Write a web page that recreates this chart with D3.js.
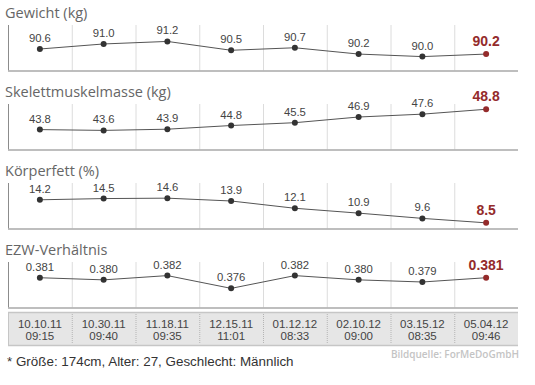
<!doctype html>
<html lang="de">
<head>
<meta charset="utf-8">
<title>Körperanalyse</title>
<style>
  body { margin: 0; background: #fff; }
  .title { font-family: "Open Sans", sans-serif; font-size: 14.5px; fill: #666; }
  .val { font-family: "Liberation Sans", Arial, sans-serif; font-size: 11.3px; fill: #444; }
  .val--last { font-size: 14px; font-weight: bold; fill: #942b2b; }
  .date { font-family: "Liberation Sans Narrow", "Arial Narrow", "Liberation Sans", sans-serif; font-size: 11.5px; fill: #444; }
  .note { font-family: "Liberation Sans", Arial, sans-serif; font-size: 13.4px; fill: #333; }
  .source { font-family: "Open Sans", sans-serif; font-size: 10px; font-weight: 600; fill: #c4c4c4; }
</style>
</head>
<body>
<svg width="535" height="385"></svg>
<script src="https://cdn.jsdelivr.net/npm/d3@7"></script>
<script>

// Messzeitpunkte
var dates = ["10.10.11", "10.30.11", "11.18.11", "12.15.11", "01.12.12", "02.10.12", "03.15.12", "05.04.12"];
var times = ["09:15", "09:40", "09:35", "11:01", "08:33", "09:00", "08:35", "09:46"];

// Messwerte
var gewicht = [90.6, 91.0, 91.2, 90.5, 90.7, 90.2, 90.0, 90.2];
var muskel  = [43.8, 43.6, 43.9, 44.8, 45.5, 46.9, 47.6, 48.8];
var fett    = [14.2, 14.5, 14.6, 13.9, 12.1, 10.9, 9.6, 8.5];
var ezw     = [0.381, 0.380, 0.382, 0.376, 0.382, 0.380, 0.379, 0.381];

var panels = [
  {title: "Gewicht (kg)",            values: gewicht, domain: [88.9, 92.5],    fmt: ".1f"},
  {title: "Skelettmuskelmasse (kg)", values: muskel,  domain: [38.9, 50.1],    fmt: ".1f"},
  {title: "Körperfett (%)",          values: fett,    domain: [7.1, 18.35],    fmt: ".1f"},
  {title: "EZW-Verhältnis",          values: ezw,     domain: [0.367, 0.3884], fmt: ".3f"}
];

var svg = d3.select("svg"),
    left = 8, right = 518,
    panelTop = 25, panelStep = 79, panelH = 45.5;

var x = d3.scaleBand().domain(dates).range([left, right]);
var dividers = dates.slice(1).map(function(d) { return x(d); });

panels.forEach(function(p, i) {
  var top = panelTop + i * panelStep,
      bottom = top + panelH;
  var y = d3.scaleLinear().domain(p.domain).range([bottom, top]);
  var g = svg.append("g");

  g.append("text").attr("class", "title")
      .attr("x", 5).attr("y", top - 7.5)
      .text(p.title);

  g.selectAll(".divider").data(dividers).enter().append("line")
      .attr("x1", function(d) { return d + 0.5; }).attr("x2", function(d) { return d + 0.5; })
      .attr("y1", top).attr("y2", bottom)
      .style("stroke", "#dcdcdc");

  g.append("line")
      .attr("x1", left + 0.5).attr("x2", left + 0.5)
      .attr("y1", top).attr("y2", bottom)
      .style("stroke", "#8c8c8c");

  g.append("line")
      .attr("x1", left).attr("x2", right)
      .attr("y1", bottom + 0.5).attr("y2", bottom + 0.5)
      .style("stroke", "#a8a8a8").style("stroke-width", 1.5);

  var data = p.values.map(function(v, j) { return {date: dates[j], v: v, last: j === p.values.length - 1}; });

  var line = d3.line()
      .x(function(d) { return x(d.date) + x.bandwidth() / 2; })
      .y(function(d) { return y(d.v); });

  g.append("path").datum(data)
      .attr("d", line)
      .style("fill", "none").style("stroke", "#555").style("stroke-width", 1);

  g.selectAll("circle").data(data).enter().append("circle")
      .attr("cx", function(d) { return x(d.date) + x.bandwidth() / 2; })
      .attr("cy", function(d) { return y(d.v); })
      .attr("r", 3)
      .style("fill", function(d) { return d.last ? "#942b2b" : "#333"; });

  g.selectAll(".val").data(data).enter().append("text")
      .attr("class", function(d) { return d.last ? "val val--last" : "val"; })
      .attr("text-anchor", "middle")
      .attr("x", function(d) { return x(d.date) + x.bandwidth() / 2; })
      .attr("y", function(d) { return y(d.v) - (d.last ? 8 : 7); })
      .text(function(d) { return d3.format(p.fmt)(d.v); });
});

// Datumsleiste
var boxTop = 312, boxH = 34;
var dg = svg.append("g");
dg.append("rect")
    .attr("x", left).attr("y", boxTop)
    .attr("width", right - left).attr("height", boxH)
    .style("fill", "#e6e6e6");
dg.append("line").attr("x1", left).attr("x2", right).attr("y1", boxTop + 0.5).attr("y2", boxTop + 0.5)
    .style("stroke", "#c6c6c6").style("stroke-width", 1.5);
dg.append("line").attr("x1", left).attr("x2", right).attr("y1", boxTop + boxH - 0.5).attr("y2", boxTop + boxH - 0.5)
    .style("stroke", "#c6c6c6").style("stroke-width", 1.5);
dg.append("line").attr("x1", left + 0.5).attr("x2", left + 0.5).attr("y1", boxTop).attr("y2", boxTop + boxH)
    .style("stroke", "#c6c6c6");
dg.selectAll(".sep").data(dividers).enter().append("line")
    .attr("x1", function(d) { return d + 0.5; }).attr("x2", function(d) { return d + 0.5; })
    .attr("y1", boxTop + 2).attr("y2", boxTop + boxH - 2)
    .style("stroke", "#b4b4b4").style("stroke-dasharray", "1,1");

dg.selectAll(".d1").data(dates).enter().append("text")
    .attr("class", "date").attr("text-anchor", "middle")
    .attr("x", function(d) { return x(d) + x.bandwidth() / 2; })
    .attr("y", boxTop + 16)
    .text(function(d) { return d; });
dg.selectAll(".d2").data(times).enter().append("text")
    .attr("class", "date").attr("text-anchor", "middle")
    .attr("x", function(d, i) { return x(dates[i]) + x.bandwidth() / 2; })
    .attr("y", boxTop + 28)
    .text(function(d) { return d; });

svg.append("text").attr("class", "note")
    .attr("x", 7).attr("y", 366)
    .text("* Größe: 174cm, Alter: 27, Geschlecht: Männlich");
svg.append("text").attr("class", "source")
    .attr("x", right + 1).attr("y", 358).attr("text-anchor", "end")
    .text("Bildquelle: ForMeDoGmbH");

</script>
</body>
</html>
